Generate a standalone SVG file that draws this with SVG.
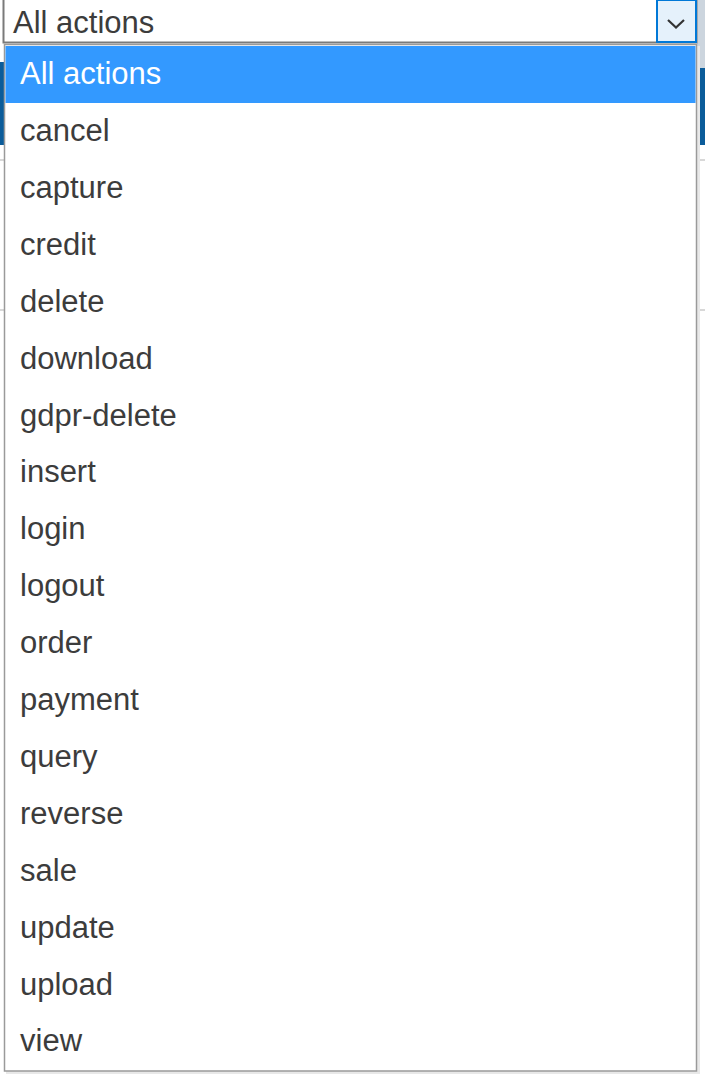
<svg xmlns="http://www.w3.org/2000/svg" width="705" height="1079" viewBox="0 0 705 1079">
<style>
.item{font-family:"Liberation Sans",Arial,sans-serif;font-size:31px;fill:#3c3c3c}
.sel{fill:#ffffff}
.sep{fill:#d8d8d8}
</style>
<rect x="0" y="0" width="705" height="1079" fill="#ffffff"/>
<g id="background">
<rect x="697" y="0" width="8" height="68" fill="#ccd5de"/>
<rect x="697" y="68" width="8" height="77" fill="#0b5c9a"/>
<rect x="0" y="62" width="4" height="83" fill="#0b5c9a"/>
<rect class="sep" x="697" y="159" width="8" height="2"/>
<rect class="sep" x="697" y="309" width="8" height="2"/>
<rect class="sep" x="0" y="159" width="4" height="2"/>
<rect class="sep" x="0" y="309" width="4" height="2"/>
</g>
<g id="select">
<rect x="3.5" y="-2" width="693" height="44.5" fill="#ffffff" stroke="#7a7a7a" stroke-width="2"/>
<text class="item" x="13" y="33" fill="#3c3c3c">All actions</text>
<rect x="657" y="0" width="39" height="42" fill="#e5f1fb" stroke="#0078d7" stroke-width="2"/>
<polyline points="668,20 676,27.5 684,20" fill="none" stroke="#333333" stroke-width="2.2"/>
</g>
<g id="list">
<rect x="6" y="46" width="694" height="1028" fill="#e8e8e8"/>
<rect x="4.5" y="44.5" width="692" height="1026.5" fill="#ffffff" stroke="#9a9a9a" stroke-width="1.5"/>
<rect x="5.5" y="46" width="690" height="57" fill="#3399ff"/>
<text class="item sel" x="20" y="84" style="fill:#ffffff">All actions</text>
<text class="item" x="20" y="141">cancel</text>
<text class="item" x="20" y="198">capture</text>
<text class="item" x="20" y="254.5">credit</text>
<text class="item" x="20" y="311.5">delete</text>
<text class="item" x="20" y="368.5">download</text>
<text class="item" x="20" y="425.5">gdpr-delete</text>
<text class="item" x="20" y="482">insert</text>
<text class="item" x="20" y="539">login</text>
<text class="item" x="20" y="596">logout</text>
<text class="item" x="20" y="653">order</text>
<text class="item" x="20" y="710">payment</text>
<text class="item" x="20" y="767">query</text>
<text class="item" x="20" y="824">reverse</text>
<text class="item" x="20" y="881">sale</text>
<text class="item" x="20" y="938">update</text>
<text class="item" x="20" y="994.5">upload</text>
<text class="item" x="20" y="1051">view</text>
</g>
</svg>
